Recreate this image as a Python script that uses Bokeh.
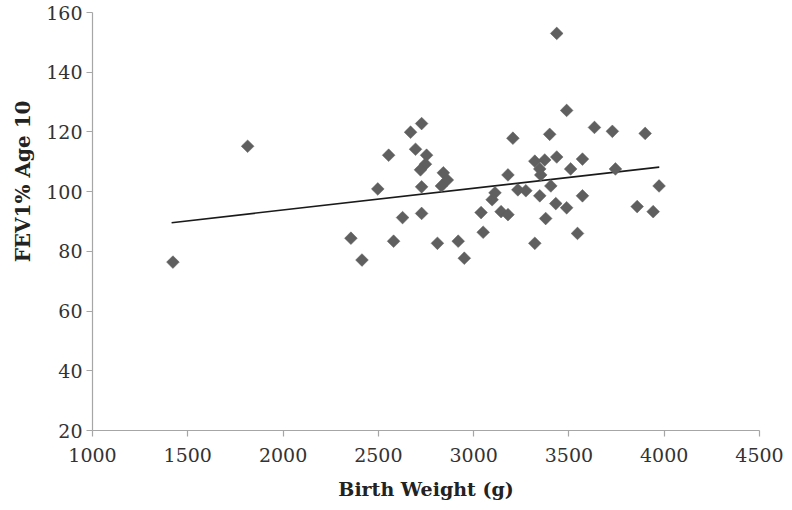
from bokeh.plotting import figure
from bokeh.models import Range1d, FixedTicker, Title
from bokeh.embed import file_html
from bokeh.resources import INLINE

birth_weight = [1422, 1814, 2356, 2414, 2497, 2554, 2580, 2627, 2669, 2695,
                2727, 2753, 2747, 2721, 2727, 2727, 2810, 2841, 2862, 2831,
                2919, 2951, 3039, 3050, 3097, 3112, 3144, 3180, 3180, 3206,
                3232, 3274, 3321, 3373, 3436, 3347, 3352, 3405, 3347, 3321,
                3378, 3431, 3488, 3545, 3571, 3509, 3571, 3399, 3488, 3634,
                3728, 3900, 3744, 3973, 3858, 3942, 3436]
fev1 = [76.4, 115.2, 84.4, 77.1, 100.9, 112.2, 83.4, 91.3, 119.9, 114.2,
        122.8, 112.2, 109.2, 107.3, 101.6, 92.7, 82.7, 106.3, 103.9, 101.9,
        83.4, 77.7, 93.0, 86.4, 97.3, 99.6, 93.3, 92.3, 105.6, 117.9,
        100.6, 100.3, 110.2, 110.6, 111.6, 107.6, 105.6, 101.9, 98.6, 82.7,
        91.0, 96.0, 94.6, 86.0, 110.9, 107.6, 98.6, 119.2, 127.2, 121.5,
        120.2, 119.5, 107.6, 101.9, 95.0, 93.3, 153.0]

trend_x = [1415, 3974]
trend_y = [89.6, 108.2]

x_ticks = [1000, 1500, 2000, 2500, 3000, 3500, 4000, 4500]
y_ticks = [20, 40, 60, 80, 100, 120, 140, 160]

x_title = "Birth Weight (g)"
y_title = "FEV1% Age 10"

p = figure(width=784, height=502, output_backend="svg", toolbar_location=None,
           x_range=Range1d(1000, 4500), y_range=Range1d(20, 160),
           min_border_left=92, min_border_right=25, min_border_top=12,
           min_border_bottom=72)
p.outline_line_color = None
p.xgrid.visible = False
p.ygrid.visible = False

p.line(trend_x, trend_y, line_color="#1a1a1a", line_width=1.6)
p.scatter(birth_weight, fev1, marker="square", size=9, angle=0.785398,
          fill_color="#5f5f5f", line_color="#5f5f5f", line_width=0.5)

font = "DejaVu Serif"
for ax in (p.xaxis[0], p.yaxis[0]):
    ax.axis_line_color = "#a6a6a6"
    ax.axis_line_width = 1.2
    ax.major_tick_line_color = "#a6a6a6"
    ax.major_tick_line_width = 1.2
    ax.major_tick_out = 6
    ax.major_tick_in = 0
    ax.minor_tick_out = 0
    ax.minor_tick_in = 0
    ax.major_label_text_font = font
    ax.major_label_text_font_size = "19px"
    ax.major_label_text_color = "#333333"
    ax.axis_label_text_font = font
    ax.axis_label_text_font_style = "bold"
    ax.axis_label_text_font_size = "19px"
    ax.axis_label_text_color = "#222222"

p.xaxis.ticker = FixedTicker(ticks=x_ticks)
p.yaxis.ticker = FixedTicker(ticks=y_ticks)
p.xaxis.axis_label = x_title
p.xaxis.major_label_standoff = 11
p.xaxis.axis_label_standoff = 13
p.yaxis.major_label_standoff = 4

# y-axis title as a left-side title anchored near the top of the frame
p.add_layout(Title(text=y_title, align="right", offset=88,
                   vertical_align="top",
                   text_font=font, text_font_style="bold",
                   text_font_size="20px", text_color="#222222",
                   standoff=14), "left")

open("out.html", "w").write(file_html(p, INLINE))
